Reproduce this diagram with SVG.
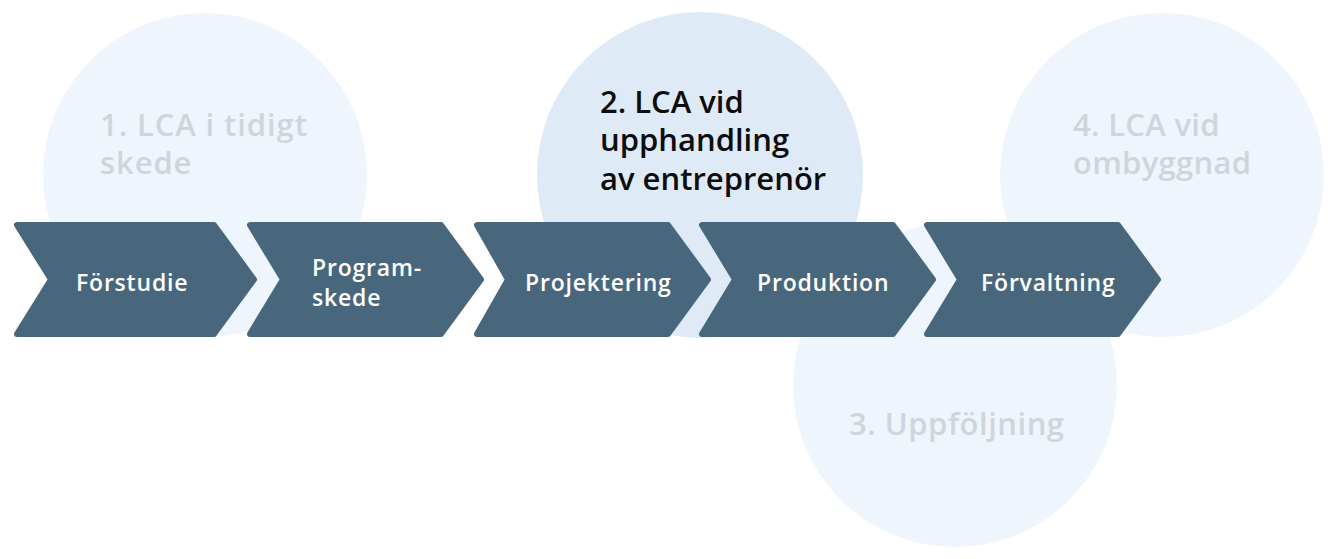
<svg xmlns="http://www.w3.org/2000/svg" width="1336" height="559" viewBox="0 0 1336 559">
<style>
.bg{fill:#ffffff}
.circ{fill:#eef5fc}
.circ-act{fill:#deeaf6}
.chev{fill:#48677d;stroke:#48677d;stroke-width:6;stroke-linejoin:round}
.lbl{font-family:"Open Sans","Liberation Sans",sans-serif;font-weight:600;font-size:23px;letter-spacing:0.8px;fill:#ffffff}
.ctxt{font-family:"Open Sans","Liberation Sans",sans-serif;font-weight:600;font-size:31px;letter-spacing:0.9px;fill:#cfd5db}
.ctxt-act{font-family:"Open Sans","Liberation Sans",sans-serif;font-weight:600;font-size:31px;fill:#0d0d0d}
</style>
<rect class="bg" x="0" y="0" width="1336" height="559"/>
<g id="circle1"><circle class="circ" cx="205" cy="175" r="162"/>
<text class="ctxt" x="100" y="136">1. LCA i tidigt</text>
<text class="ctxt" x="100" y="174">skede</text></g>
<g id="circle2"><circle class="circ-act" cx="700" cy="175" r="163"/>
<text class="ctxt-act" x="600" y="113">2. LCA vid</text>
<text class="ctxt-act" x="600" y="151">upphandling</text>
<text class="ctxt-act" x="600" y="190">av entreprenör</text></g>
<g id="circle3"><circle class="circ" cx="955" cy="385" r="162"/>
<text class="ctxt" x="849" y="435" style="letter-spacing:0.5px">3. Uppföljning</text></g>
<g id="circle4"><circle class="circ" cx="1162" cy="175" r="162"/>
<text class="ctxt" x="1073" y="136" style="letter-spacing:0.3px">4. LCA vid</text>
<text class="ctxt" x="1073" y="174" style="letter-spacing:0.3px">ombyggnad</text></g>
<g id="connectors"></g>
<g id="forstudie"><polygon class="chev" points="17,225 214,225 254,279.5 214,334 17,334 51,279.5"/>
<text class="lbl" x="76" y="291">Förstudie</text></g>
<g id="programskede"><polygon class="chev" points="250,225 441,225 481,279.5 441,334 250,334 283,279.5"/>
<text class="lbl" x="312" y="276">Program-</text>
<text class="lbl" x="312" y="306">skede</text></g>
<g id="projektering"><polygon class="chev" points="477,225 668,225 708,279.5 668,334 477,334 508,279.5"/>
<text class="lbl" x="525" y="291">Projektering</text></g>
<g id="produktion"><polygon class="chev" points="702,225 893,225 933,279.5 893,334 702,334 735,279.5"/>
<text class="lbl" x="757" y="291">Produktion</text></g>
<g id="forvaltning"><polygon class="chev" points="927,225 1118,225 1158,279.5 1118,334 927,334 960,279.5"/>
<text class="lbl" x="981" y="291">Förvaltning</text></g>
</svg>
